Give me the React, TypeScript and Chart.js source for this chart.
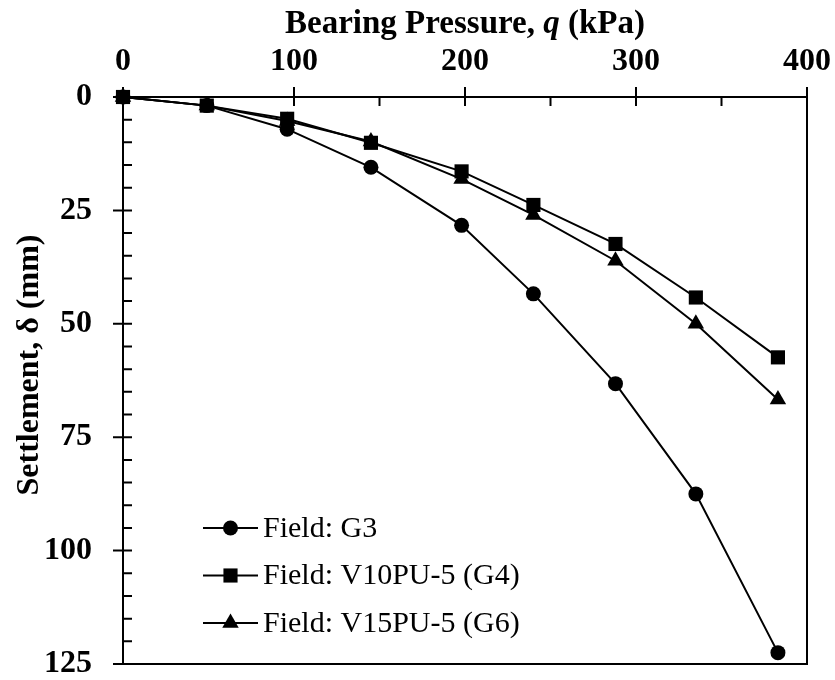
import React, { useEffect, useRef } from "react";
import { Chart, registerables } from "chart.js";
import { drawPoint } from "chart.js/helpers";

Chart.register(...registerables);

const SERIF = "'Liberation Serif', 'Times New Roman', serif";

// Bearing pressure applied at each load step (kPa)
const PRESSURE_KPA = [0, 49, 96, 145, 198, 240, 288, 335, 383];

// Measured settlement at each load step (mm)
const SETTLEMENT_G3 = [0, 1.9, 7.1, 15.5, 28.3, 43.4, 63.2, 87.5, 122.5];
const SETTLEMENT_G4 = [0, 1.9, 4.8, 10.1, 16.4, 23.8, 32.4, 44.2, 57.4];
const SETTLEMENT_G6 = [0, 1.9, 5.3, 9.8, 18.1, 26.0, 36.1, 50.0, 66.7];

const SERIES_LABELS = ["Field: G3", "Field: V10PU-5 (G4)", "Field: V15PU-5 (G6)"];

// Axis ranges and tick spacing
const X_MIN = 0;
const X_MAX = 400;
const X_MAJOR_STEP = 100;
const X_MINOR_STEP = 50;
const Y_MIN = 0;
const Y_MAX = 125;
const Y_MAJOR_STEP = 25;
const Y_MINOR_STEP = 5;

const X_TITLE_PARTS = [
  { text: "Bearing Pressure, ", italic: false },
  { text: "q", italic: true },
  { text: " (kPa)", italic: false },
];
const Y_TITLE = "Settlement, \u03b4 (mm)";

const toPoints = (ys: number[]) => PRESSURE_KPA.map((x, i) => ({ x, y: ys[i] }));

// Fixed scale thickness, no extra room for overhanging tick labels
const fixSize = (prop: "width" | "height", size: number) => (s: any) => {
  s[prop] = size;
  s.paddingLeft = 0;
  s.paddingRight = 0;
  s.paddingTop = 0;
  s.paddingBottom = 0;
};

// Frame, crossing major ticks and inward minor ticks
const axesFrame = {
  id: "axesFrame",
  beforeDatasetsDraw(chart: any) {
    const { ctx, chartArea: a, scales } = chart;
    const xs = scales.x;
    const ys = scales.y;
    ctx.save();
    ctx.strokeStyle = "#000";
    ctx.lineWidth = 2;
    ctx.beginPath();
    ctx.rect(a.left, a.top, a.right - a.left, a.bottom - a.top);
    for (let v = X_MIN; v <= X_MAX; v += X_MINOR_STEP) {
      const px = xs.getPixelForValue(v);
      const major = v % X_MAJOR_STEP === 0;
      ctx.moveTo(px, major ? a.top - 10 : a.top);
      ctx.lineTo(px, a.top + 9);
    }
    for (let v = Y_MIN; v <= Y_MAX; v += Y_MINOR_STEP) {
      const py = ys.getPixelForValue(v);
      const major = v % Y_MAJOR_STEP === 0;
      ctx.moveTo(major ? a.left - 10 : a.left, py);
      ctx.lineTo(a.left + 9, py);
    }
    ctx.stroke();
    ctx.restore();
  },
};

// Axis titles (mixed styles on the pressure axis)
const axisTitles = {
  id: "axisTitles",
  afterDraw(chart: any) {
    const { ctx, chartArea: a } = chart;
    ctx.save();
    ctx.fillStyle = "#000";
    ctx.textBaseline = "alphabetic";
    const size = 33;
    const fontOf = (italic: boolean) => `${italic ? "italic " : ""}bold ${size}px ${SERIF}`;
    let total = 0;
    for (const p of X_TITLE_PARTS) {
      ctx.font = fontOf(p.italic);
      total += ctx.measureText(p.text).width;
    }
    let x = (a.left + a.right) / 2 - total / 2;
    for (const p of X_TITLE_PARTS) {
      ctx.font = fontOf(p.italic);
      ctx.textAlign = "left";
      ctx.fillText(p.text, x, 33);
      x += ctx.measureText(p.text).width;
    }
    ctx.translate(38, 365);
    ctx.rotate(-Math.PI / 2);
    ctx.font = `bold 32px ${SERIF}`;
    ctx.textAlign = "center";
    ctx.fillText(Y_TITLE, 0, 0);
    ctx.restore();
  },
};

// Legend: short line with the series marker, then the label
const lineLegend = {
  id: "lineLegend",
  afterDraw(chart: any) {
    const { ctx, chartArea: a } = chart;
    ctx.save();
    ctx.font = `30px ${SERIF}`;
    ctx.textBaseline = "middle";
    ctx.textAlign = "left";
    chart.data.datasets.forEach((ds: any, i: number) => {
      const yy = a.top + 431 + i * 47.5;
      const x0 = a.left + 80;
      const x1 = a.left + 135;
      ctx.strokeStyle = "#000";
      ctx.lineWidth = 2;
      ctx.beginPath();
      ctx.moveTo(x0, yy);
      ctx.lineTo(x1, yy);
      ctx.stroke();
      ctx.fillStyle = "#000";
      drawPoint(ctx, { pointStyle: ds.pointStyle, radius: ds.pointRadius, borderWidth: 0, rotation: 0 }, (x0 + x1) / 2, yy);
      ctx.fillStyle = "#000";
      ctx.fillText(ds.label, x1 + 5, yy + 1);
    });
    ctx.restore();
  },
};

export default function App() {
  const canvasRef = useRef<HTMLCanvasElement | null>(null);

  useEffect(() => {
    const canvas = canvasRef.current;
    if (!canvas) return;
    const common = {
      borderColor: "#000",
      backgroundColor: "#000",
      borderWidth: 2,
      pointBorderWidth: 0,
      pointBackgroundColor: "#000",
      tension: 0,
      clip: false as const,
    };
    const chart = new Chart(canvas, {
      type: "line",
      data: {
        datasets: [
          { ...common, label: SERIES_LABELS[0], data: toPoints(SETTLEMENT_G3), pointStyle: "circle", pointRadius: 7.5 },
          { ...common, label: SERIES_LABELS[1], data: toPoints(SETTLEMENT_G4), pointStyle: "rect", pointRadius: 10 },
          { ...common, label: SERIES_LABELS[2], data: toPoints(SETTLEMENT_G6), pointStyle: "triangle", pointRadius: 9.5 },
        ],
      },
      options: {
        responsive: false,
        animation: false,
        devicePixelRatio: 1,
        layout: { padding: { left: 0, top: 0, right: 28, bottom: 16 } },
        plugins: { legend: { display: false }, tooltip: { enabled: false } },
        scales: {
          x: {
            type: "linear",
            position: "top",
            min: X_MIN,
            max: X_MAX,
            grid: { display: false },
            border: { display: false },
            ticks: {
              stepSize: X_MAJOR_STEP,
              color: "#000",
              padding: 8,
              maxRotation: 0,
              font: { family: SERIF, size: 32, weight: "bold" },
            },
            afterFit: fixSize("height", 97),
          },
          y: {
            type: "linear",
            reverse: true,
            min: Y_MIN,
            max: Y_MAX,
            grid: { display: false },
            border: { display: false },
            ticks: {
              stepSize: Y_MAJOR_STEP,
              color: "#000",
              padding: 23,
              font: { family: SERIF, size: 32, weight: "bold" },
            },
            afterFit: fixSize("width", 123),
          },
        },
      },
      plugins: [axesFrame, axisTitles, lineLegend],
    });
    return () => chart.destroy();
  }, []);

  return (
    <div style={{ position: "fixed", left: 0, top: 0, width: 835, height: 680, background: "#fff" }}>
      <canvas ref={canvasRef} width={835} height={680} />
    </div>
  );
}
